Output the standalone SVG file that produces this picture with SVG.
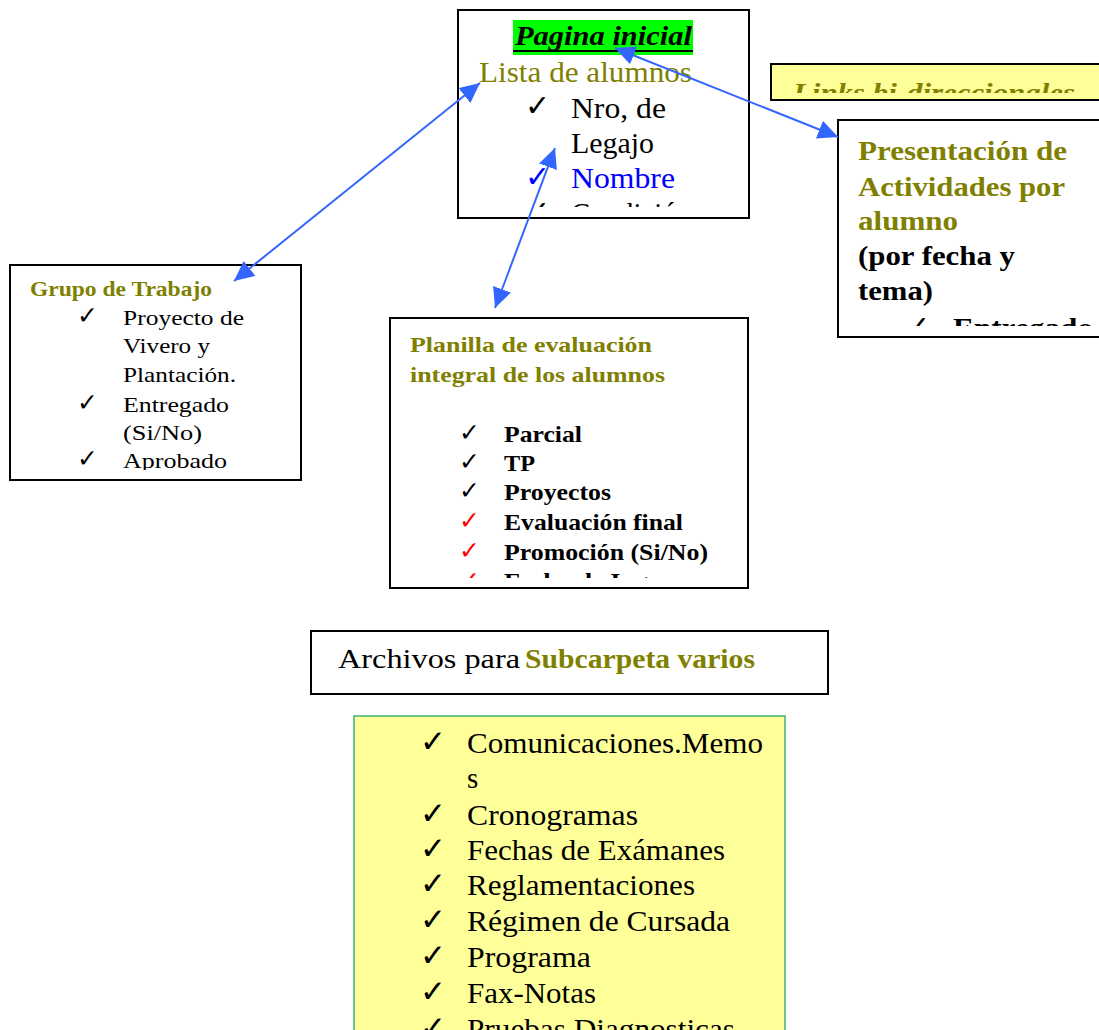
<svg xmlns="http://www.w3.org/2000/svg" width="1099" height="1030" viewBox="0 0 1099 1030">
<style>
.box{fill:#fff;stroke:#000;stroke-width:2}
.t{font-family:"Liberation Serif",serif;fill:#000}
.b{font-weight:bold}
.ol{fill:#808000}
.ck{font-family:"DejaVu Sans",sans-serif;fill:#000}
.red{fill:#ff0000}
.blue{fill:#0000ff}
.conn{stroke:#3366ff;stroke-width:2;fill:none;marker-start:url(#ah);marker-end:url(#ah)}
</style>
<defs>
<marker id="ah" markerUnits="userSpaceOnUse" markerWidth="22" markerHeight="20" refX="20" refY="9.5" orient="auto-start-reverse">
<path d="M0,0 L20,9.5 L0,19 z" fill="#3366ff"/>
</marker>
<clipPath id="c1"><rect x="458" y="10" width="291" height="197"/></clipPath>
<clipPath id="c2"><rect x="771" y="64" width="328" height="29"/></clipPath>
<clipPath id="c3"><rect x="838" y="120" width="261" height="206"/></clipPath>
<clipPath id="c4"><rect x="10" y="265" width="291" height="205"/></clipPath>
<clipPath id="c5"><rect x="390" y="318" width="358" height="260"/></clipPath>
</defs>

<g id="pagina-inicial">
<rect class="box" x="458" y="10" width="291" height="208"/>
<g clip-path="url(#c1)">
<rect x="513" y="20" width="180" height="35" fill="#00ff00"/>
<text class="t b" font-style="italic" x="515" y="45" font-size="27" textLength="177" lengthAdjust="spacingAndGlyphs">Pagina inicial</text>
<line x1="513" y1="51" x2="693" y2="51" stroke="#000" stroke-width="2"/>
<text class="t ol" x="479" y="82" font-size="29" textLength="213" lengthAdjust="spacingAndGlyphs">Lista de alumnos</text>
<text class="ck" x="525" y="116" font-size="30">✓</text>
<text class="t" x="571" y="118" font-size="29" textLength="95" lengthAdjust="spacingAndGlyphs">Nro, de</text>
<text class="t" x="571" y="153" font-size="29" textLength="83" lengthAdjust="spacingAndGlyphs">Legajo</text>
<text class="ck blue" x="525" y="187" font-size="30">✓</text>
<text class="t blue" x="571" y="188" font-size="29" textLength="104" lengthAdjust="spacingAndGlyphs">Nombre</text>
<text class="ck" x="525" y="222" font-size="30">✓</text>
<text class="t" x="571" y="223" font-size="29" textLength="120" lengthAdjust="spacingAndGlyphs">Condición</text>
</g>
</g>

<g id="links">
<rect x="771" y="64" width="340" height="36" fill="#ffff99" stroke="#000" stroke-width="2"/>
<text class="t b ol" font-style="italic" x="793" y="101" font-size="25" textLength="282" lengthAdjust="spacingAndGlyphs" clip-path="url(#c2)">Links bi-direccionales</text>
</g>

<g id="presentacion">
<rect class="box" x="838" y="120" width="275" height="217"/>
<g clip-path="url(#c3)">
<text class="t b ol" x="858" y="160" font-size="28" textLength="209" lengthAdjust="spacingAndGlyphs">Presentación de</text>
<text class="t b ol" x="858" y="196" font-size="28" textLength="207" lengthAdjust="spacingAndGlyphs">Actividades por</text>
<text class="t b ol" x="858" y="230" font-size="28" textLength="100" lengthAdjust="spacingAndGlyphs">alumno</text>
<text class="t b" x="858" y="265" font-size="28" textLength="157" lengthAdjust="spacingAndGlyphs">(por fecha y</text>
<text class="t b" x="858" y="300" font-size="28" textLength="75" lengthAdjust="spacingAndGlyphs">tema)</text>
<text class="ck" x="905" y="337" font-size="30">✓</text>
<text class="t b" x="953" y="337" font-size="28" textLength="140" lengthAdjust="spacingAndGlyphs">Entregado</text>
</g>
</g>

<g id="grupo-trabajo">
<rect class="box" x="10" y="265" width="291" height="215"/>
<g clip-path="url(#c4)">
<text class="t b ol" x="30" y="296" font-size="20" textLength="182" lengthAdjust="spacingAndGlyphs">Grupo de Trabajo</text>
<text class="ck" x="77" y="324" font-size="25">✓</text>
<text class="t" x="123" y="325" font-size="22" textLength="121" lengthAdjust="spacingAndGlyphs">Proyecto de</text>
<text class="t" x="123" y="353" font-size="22" textLength="87" lengthAdjust="spacingAndGlyphs">Vivero y</text>
<text class="t" x="123" y="382" font-size="22" textLength="113" lengthAdjust="spacingAndGlyphs">Plantación.</text>
<text class="ck" x="77" y="411" font-size="25">✓</text>
<text class="t" x="123" y="412" font-size="22" textLength="106" lengthAdjust="spacingAndGlyphs">Entregado</text>
<text class="t" x="123" y="440" font-size="22" textLength="79" lengthAdjust="spacingAndGlyphs">(Si/No)</text>
<text class="ck" x="77" y="467" font-size="25">✓</text>
<text class="t" x="123" y="468" font-size="22" textLength="104" lengthAdjust="spacingAndGlyphs">Aprobado</text>
</g>
</g>

<g id="planilla">
<rect class="box" x="390" y="318" width="358" height="270"/>
<g clip-path="url(#c5)">
<text class="t b ol" x="410" y="352" font-size="22" textLength="242" lengthAdjust="spacingAndGlyphs">Planilla de evaluación</text>
<text class="t b ol" x="410" y="382" font-size="22" textLength="255" lengthAdjust="spacingAndGlyphs">integral de los alumnos</text>
<text class="ck" x="459" y="441" font-size="25">✓</text>
<text class="t b" x="504" y="442" font-size="24" textLength="78" lengthAdjust="spacingAndGlyphs">Parcial</text>
<text class="ck" x="459" y="470" font-size="25">✓</text>
<text class="t b" x="504" y="471" font-size="24" textLength="31" lengthAdjust="spacingAndGlyphs">TP</text>
<text class="ck" x="459" y="499" font-size="25">✓</text>
<text class="t b" x="504" y="500" font-size="24" textLength="107" lengthAdjust="spacingAndGlyphs">Proyectos</text>
<text class="ck red" x="459" y="529" font-size="25">✓</text>
<text class="t b" x="504" y="530" font-size="24" textLength="179" lengthAdjust="spacingAndGlyphs">Evaluación final</text>
<text class="ck red" x="459" y="559" font-size="25">✓</text>
<text class="t b" x="504" y="560" font-size="24" textLength="204" lengthAdjust="spacingAndGlyphs">Promoción (Si/No)</text>
<text class="ck red" x="459" y="589" font-size="25">✓</text>
<text class="t b" x="504" y="589" font-size="24" textLength="190" lengthAdjust="spacingAndGlyphs">Fecha de Ingreso</text>
</g>
</g>

<g id="archivos">
<rect class="box" x="311" y="631" width="517" height="63"/>
<text class="t" x="338" y="668" font-size="28"><tspan textLength="182" lengthAdjust="spacingAndGlyphs">Archivos para</tspan><tspan class="b ol" x="525" textLength="230" lengthAdjust="spacingAndGlyphs">Subcarpeta varios</tspan></text>
</g>

<g id="subcarpeta-varios">
<rect x="354" y="716" width="431" height="330" fill="#ffff99" stroke="#3cb371" stroke-width="1.5"/>
<text class="ck" x="420" y="752" font-size="31">✓</text>
<text class="t" x="467" y="753" font-size="29" textLength="296" lengthAdjust="spacingAndGlyphs">Comunicaciones.Memo</text>
<text class="t" x="467" y="788" font-size="29">s</text>
<text class="ck" x="420" y="824" font-size="31">✓</text>
<text class="t" x="467" y="825" font-size="29" textLength="171" lengthAdjust="spacingAndGlyphs">Cronogramas</text>
<text class="ck" x="420" y="859" font-size="31">✓</text>
<text class="t" x="467" y="860" font-size="29" textLength="258" lengthAdjust="spacingAndGlyphs">Fechas de Exámanes</text>
<text class="ck" x="420" y="894" font-size="31">✓</text>
<text class="t" x="467" y="895" font-size="29" textLength="228" lengthAdjust="spacingAndGlyphs">Reglamentaciones</text>
<text class="ck" x="420" y="930" font-size="31">✓</text>
<text class="t" x="467" y="931" font-size="29" textLength="263" lengthAdjust="spacingAndGlyphs">Régimen de Cursada</text>
<text class="ck" x="420" y="966" font-size="31">✓</text>
<text class="t" x="467" y="967" font-size="29" textLength="124" lengthAdjust="spacingAndGlyphs">Programa</text>
<text class="ck" x="420" y="1002" font-size="31">✓</text>
<text class="t" x="467" y="1003" font-size="29" textLength="129" lengthAdjust="spacingAndGlyphs">Fax-Notas</text>
<text class="ck" x="420" y="1038" font-size="31">✓</text>
<text class="t" x="467" y="1039" font-size="29" textLength="268" lengthAdjust="spacingAndGlyphs">Pruebas Diagnosticas</text>
</g>

<g id="connectors">
<line class="conn" x1="480" y1="83" x2="234" y2="281"/>
<line class="conn" x1="615" y1="48" x2="838" y2="137"/>
<line class="conn" x1="555" y1="148" x2="495" y2="308"/>
</g>
</svg>
